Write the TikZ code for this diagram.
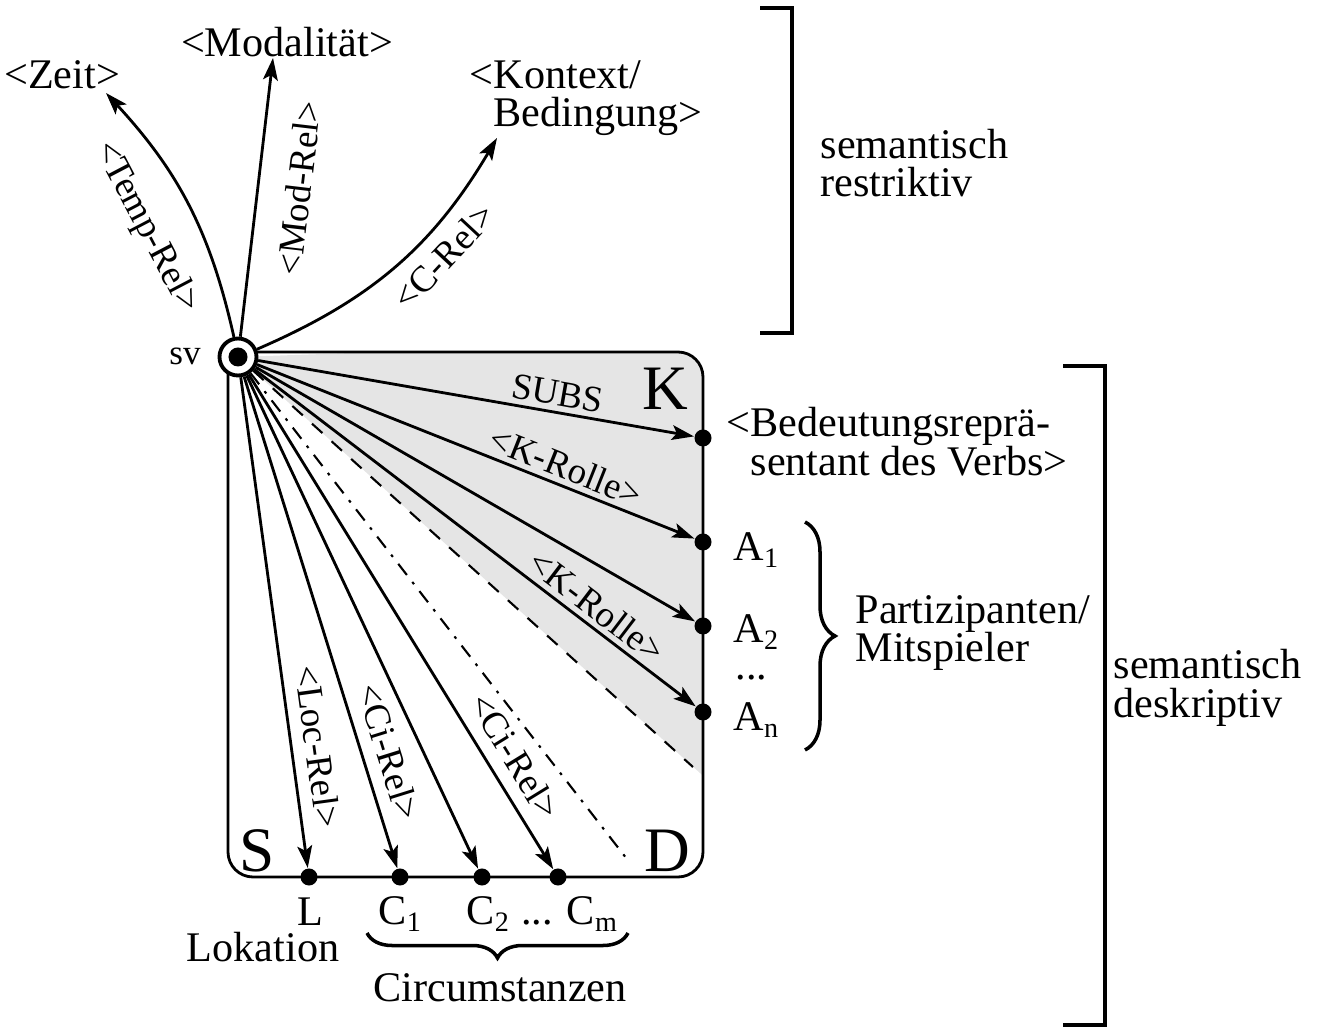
\documentclass[tikz,border=0pt]{standalone}
\usepackage{fontspec}
\setmainfont{Liberation Serif}
\usetikzlibrary{arrows.meta,decorations.pathreplacing}

\tikzset{
  rel/.style={line width=0.8pt,-{Stealth[length=6.3pt,width=4.2pt,inset=1.4pt]}},
  rellab/.style={sloped,font=\fontsize{10.5}{12}\selectfont,inner sep=1.5pt},
  dot/.style={circle,fill,inner sep=0pt,minimum size=0.17cm},
  txt/.style={font=\fontsize{12}{11}\selectfont,inner sep=0pt},
  big/.style={font=\fontsize{18}{20}\selectfont,inner sep=0pt},
  bracket/.style={line width=0.9pt},
  brace/.style={decorate,line width=1pt},
}

\begin{document}
\begin{tikzpicture}[x=0.01cm,y=-0.01cm]
\useasboundingbox (0,0) rectangle (1318,1028);

% shaded part of the box
\begin{scope}
  \clip[rounded corners=0.25cm] (228,352) rectangle (703,877);
  \fill[gray!20] (238,357) -- (720,340) -- (720,791) -- cycle;
\end{scope}
\draw[line width=0.8pt,rounded corners=0.25cm] (240,352) -- (703,352) -- (703,877) -- (228,877) -- (228,365);

\node[circle,draw,fill=white,line width=1.1pt,minimum size=0.37cm,inner sep=0pt] (sv) at (238,357) {};
\fill (sv.center) circle (0.095cm);
\node[font=\fontsize{10}{12}\selectfont,inner sep=0pt] (svlab) at (185,356) {sv};

\node[big] (kl) at (665,389) {K};
\node[big] (sl) at (257,851) {S};
\node[big] (dl) at (667,851) {D};

% top
\node[txt] (zeit) at (62,75) {<Zeit>};
\node[txt] (modal) at (287,42) {<Modalität>};
\node[txt,anchor=west,align=left] (kontext) at (493,98) {\llap{<}Kontext/\\Bedingung>};
\coordinate (zt) at (106,93);
\coordinate (mt) at (273,58);
\coordinate (kt) at (497,138);

\draw[rel] (sv) to[bend right=15] node[rellab,below=7pt,pos=0.5] {<Temp-Rel>} (zt);
\draw[rel] (sv) -- node[rellab,below=6pt,pos=0.55] {<Mod-Rel>} (mt);
\draw[rel] (sv) to[bend right=18] node[rellab,below=2pt,pos=0.63] {<C-Rel>} (kt);

% right side
\node[dot] (subs) at (703,438) {};
\node[dot] (a1) at (703,542) {};
\node[dot] (a2) at (703,626) {};
\node[dot] (an) at (703,712) {};

\draw[rel] (sv) -- node[rellab,above,pos=0.68] {SUBS} (subs);
\draw[rel] (sv) -- node[rellab,above,pos=0.69] {<K-Rolle>} (a1);
\draw[rel] (sv) -- (a2);
\draw[rel] (sv) -- node[rellab,above,pos=0.75] {<K-Rolle>} (an);

\coordinate (d1) at (693,767);
\coordinate (d2) at (630,863);
\draw[line width=0.6pt,dash pattern=on 4pt off 3.5pt] (sv) -- (d1);
\draw[line width=0.6pt,dash pattern=on 4pt off 2.5pt on 0.8pt off 2.5pt] (sv) -- (d2);

\node[txt,anchor=west,align=left] (bedrep) at (750,442) {\llap{<}Bedeutungsreprä-\\sentant des Verbs>};
\node[txt,anchor=west] (a1lab) at (733,550) {A\textsubscript{1}};
\node[txt,anchor=west] (a2lab) at (733,632) {A\textsubscript{2}};
\node[txt,anchor=west] (adots) at (735,678) {...};
\node[txt,anchor=west] (anlab) at (733,720) {A\textsubscript{n}};
\draw[brace,decoration={brace,amplitude=0.3cm}] (805,522) -- (805,750);
\node[txt,anchor=west,align=left] (partiz) at (855,633) {Partizipanten/\\Mitspieler};

% bottom
\node[dot] (l) at (309,877) {};
\node[dot] (c1) at (400,877) {};
\node[dot] (c2) at (482,877) {};
\node[dot] (cm) at (558,877) {};

\draw[rel] (sv) -- node[rellab,above=2pt,pos=0.76] {<Loc-Rel>} (l);
\draw[rel] (sv) -- node[rellab,above=2pt,pos=0.78] {<Ci-Rel>} (c1);
\draw[rel] (sv) -- (c2);
\draw[rel] (sv) -- node[rellab,above=2pt,pos=0.80] {<Ci-Rel>} (cm);

\node[txt] (llab) at (310,912) {L};
\node[txt,anchor=west] (c1lab) at (378,914) {C\textsubscript{1}};
\node[txt,anchor=west] (cmlab) at (466,914) {C\textsubscript{2} ... C\textsubscript{m}};
\node[txt] (lokation) at (263,947) {Lokation};
\draw[brace,decoration={brace,amplitude=0.25cm}] (628,933) -- (367,933);
\node[txt] (circum) at (500,988) {Circumstanzen};

% brackets
\draw[bracket] (760,8) -- (792,8) -- (792,333) -- (760,333);
\node[txt,anchor=west,align=left] (restr) at (820,163) {semantisch\\restriktiv};
\draw[bracket] (1063,366) -- (1105,366) -- (1105,1025) -- (1063,1025);
\node[txt,anchor=west,align=left] (deskr) at (1113,688) {semantisch\\deskriptiv};
\end{tikzpicture}
\end{document}
